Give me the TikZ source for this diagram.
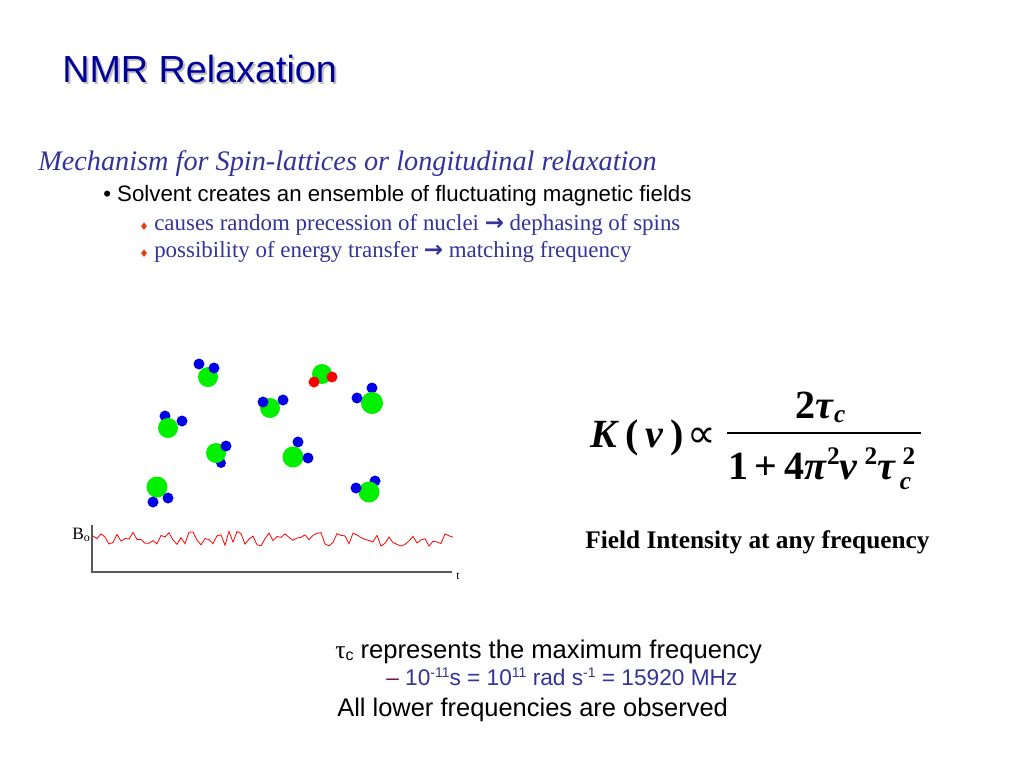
\documentclass[tikz,border=0pt]{standalone}
\usepackage{fontspec}
\setmainfont{Liberation Serif}
\setsansfont{Liberation Sans}
\newfontfamily\dv{DejaVu Sans}
\definecolor{ttl}{RGB}{0,0,153}
\definecolor{mech}{RGB}{51,51,153}
\definecolor{dia}{RGB}{230,60,20}
\definecolor{grn}{RGB}{0,240,0}
\definecolor{blu}{RGB}{0,0,230}
\definecolor{dash}{RGB}{110,20,90}
\tikzset{txt/.style={anchor=base west,inner sep=0pt},
 g/.style={fill=grn,draw=none},b/.style={fill=blu,draw=none},r/.style={fill=red,draw=none}}
\newcommand\sps[1]{\raisebox{11pt}{\fontsize{19}{20}\selectfont #1}}
\begin{document}
\begin{tikzpicture}[x=0.75pt,y=-0.75pt]
\useasboundingbox (0,0) rectangle (1024,768);
\node[txt,text=gray!50] (ts) at (64,84) {\sffamily\fontsize{28.3}{34}\selectfont NMR Relaxation};
\node[txt,text=ttl] (t) at (62,82) {\sffamily\fontsize{28.3}{34}\selectfont NMR Relaxation};
\node[txt,text=mech] (m) at (38,170) {\itshape\fontsize{21.2}{24}\selectfont Mechanism for Spin-lattices or longitudinal relaxation};
\node[txt] (s) at (103,201) {\sffamily\fontsize{16.7}{20}\selectfont • Solvent creates an ensemble of fluctuating magnetic fields};
\node[txt,text=dia] (d1) at (139,230) {\dv\fontsize{8}{10}\selectfont ♦};
\node[txt,text=mech] (l1) at (154,230) {\fontsize{17.2}{20}\selectfont causes random precession of nuclei {\dv\bfseries →} dephasing of spins};
\node[txt,text=dia] (d2) at (139,257) {\dv\fontsize{8}{10}\selectfont ♦};
\node[txt,text=mech] (l2) at (154,257) {\fontsize{17.2}{20}\selectfont possibility of energy transfer {\dv\bfseries →} matching frequency};
% molecules
\fill[b] (199,364) circle (5.5); \fill[g] (208,377) circle (10); \fill[b] (214,368) circle (5.5);
\fill[g] (322,374) circle (10); \fill[r] (314,382) circle (5.5); \fill[r] (332,377) circle (5.5);
\fill[g] (270,408) circle (10); \fill[b] (263,402) circle (5.5); \fill[b] (283,400) circle (5.5);
\fill[b] (372,388) circle (5.5); \fill[g] (372,403) circle (11); \fill[b] (357,398) circle (5.5);
\fill[b] (165,416) circle (5.5); \fill[g] (168,428) circle (10); \fill[b] (182,421) circle (5.5);
\fill[b] (221,463) circle (5); \fill[g] (216,453) circle (10); \fill[b] (226,446) circle (5.5);
\fill[b] (298,442) circle (5.5); \fill[g] (293,457) circle (10.5); \fill[b] (308,458) circle (5.5);
\fill[g] (157,487) circle (10.5); \fill[b] (168,498) circle (5.5); \fill[b] (153,502) circle (5.5);
\fill[b] (375,481) circle (5.5); \fill[g] (369,492) circle (10.5); \fill[b] (356,488) circle (5.5);
% axes
\coordinate (top) at (92,525); \coordinate (o) at (92,572); \coordinate (e) at (452,572);
\draw[gray!70!black,line width=0.8pt] (top) -- (o) -- (e);
\node[txt] (tl) at (456,579) {\fontsize{9}{10}\selectfont t};
\node[txt] (B) at (72,539) {\fontsize{13}{14}\selectfont B\raisebox{-1.5pt}{\fontsize{9}{10}\selectfont o}};
\pgfmathsetseed{7}
\draw[red,line width=0.6pt] (93,536) \foreach \i in {1,...,90}{ -- ({93+4*\i},{537+7*rand+0.04*\i})};
% formula
\node[txt] (K) at (590,447) {\bfseries\fontsize{30}{34}\selectfont\textit{K}\,(\,\textit{v}\,)\hspace{3pt}{\dv\mdseries ∝}};
\draw[line width=1pt] (727,433) -- (921,433);
\node[txt] (num) at (795,418) {\bfseries\fontsize{30}{34}\selectfont 2\textit{τ}\raisebox{-3pt}{\fontsize{19}{20}\selectfont\textit{c}}};
\node[txt] (den) at (728,479) {\bfseries\fontsize{30}{34}\selectfont 1\,+\,4\textit{π}\sps{2}\textit{v}\,\sps{2}\textit{τ}\,\raisebox{11pt}{\fontsize{19}{20}\selectfont\makebox[0pt][l]{2}}\hspace{-2pt}\raisebox{-8pt}{\fontsize{19}{20}\selectfont\textit{c}}};
\node[txt] (fi) at (585,548) {\bfseries\fontsize{19}{22}\selectfont Field Intensity at any frequency};
% bottom
\node[txt] (b1) at (335,658) {\sffamily\fontsize{19.2}{22}\selectfont {\rmfamily τ}\raisebox{-2pt}{\fontsize{12}{13}\selectfont c} represents the maximum frequency};
\node[txt,text=mech] (b2) at (386,685) {\sffamily\fontsize{17}{19}\selectfont {\color{dash}–} 10\raisebox{6pt}{\fontsize{10.5}{11}\selectfont -11}s = 10\raisebox{6pt}{\fontsize{10.5}{11}\selectfont 11} rad s\raisebox{6pt}{\fontsize{10.5}{11}\selectfont -1} = 15920 MHz};
\node[txt] (b3) at (337,716) {\sffamily\fontsize{19.1}{22}\selectfont All lower frequencies are observed};
\end{tikzpicture}
\end{document}
